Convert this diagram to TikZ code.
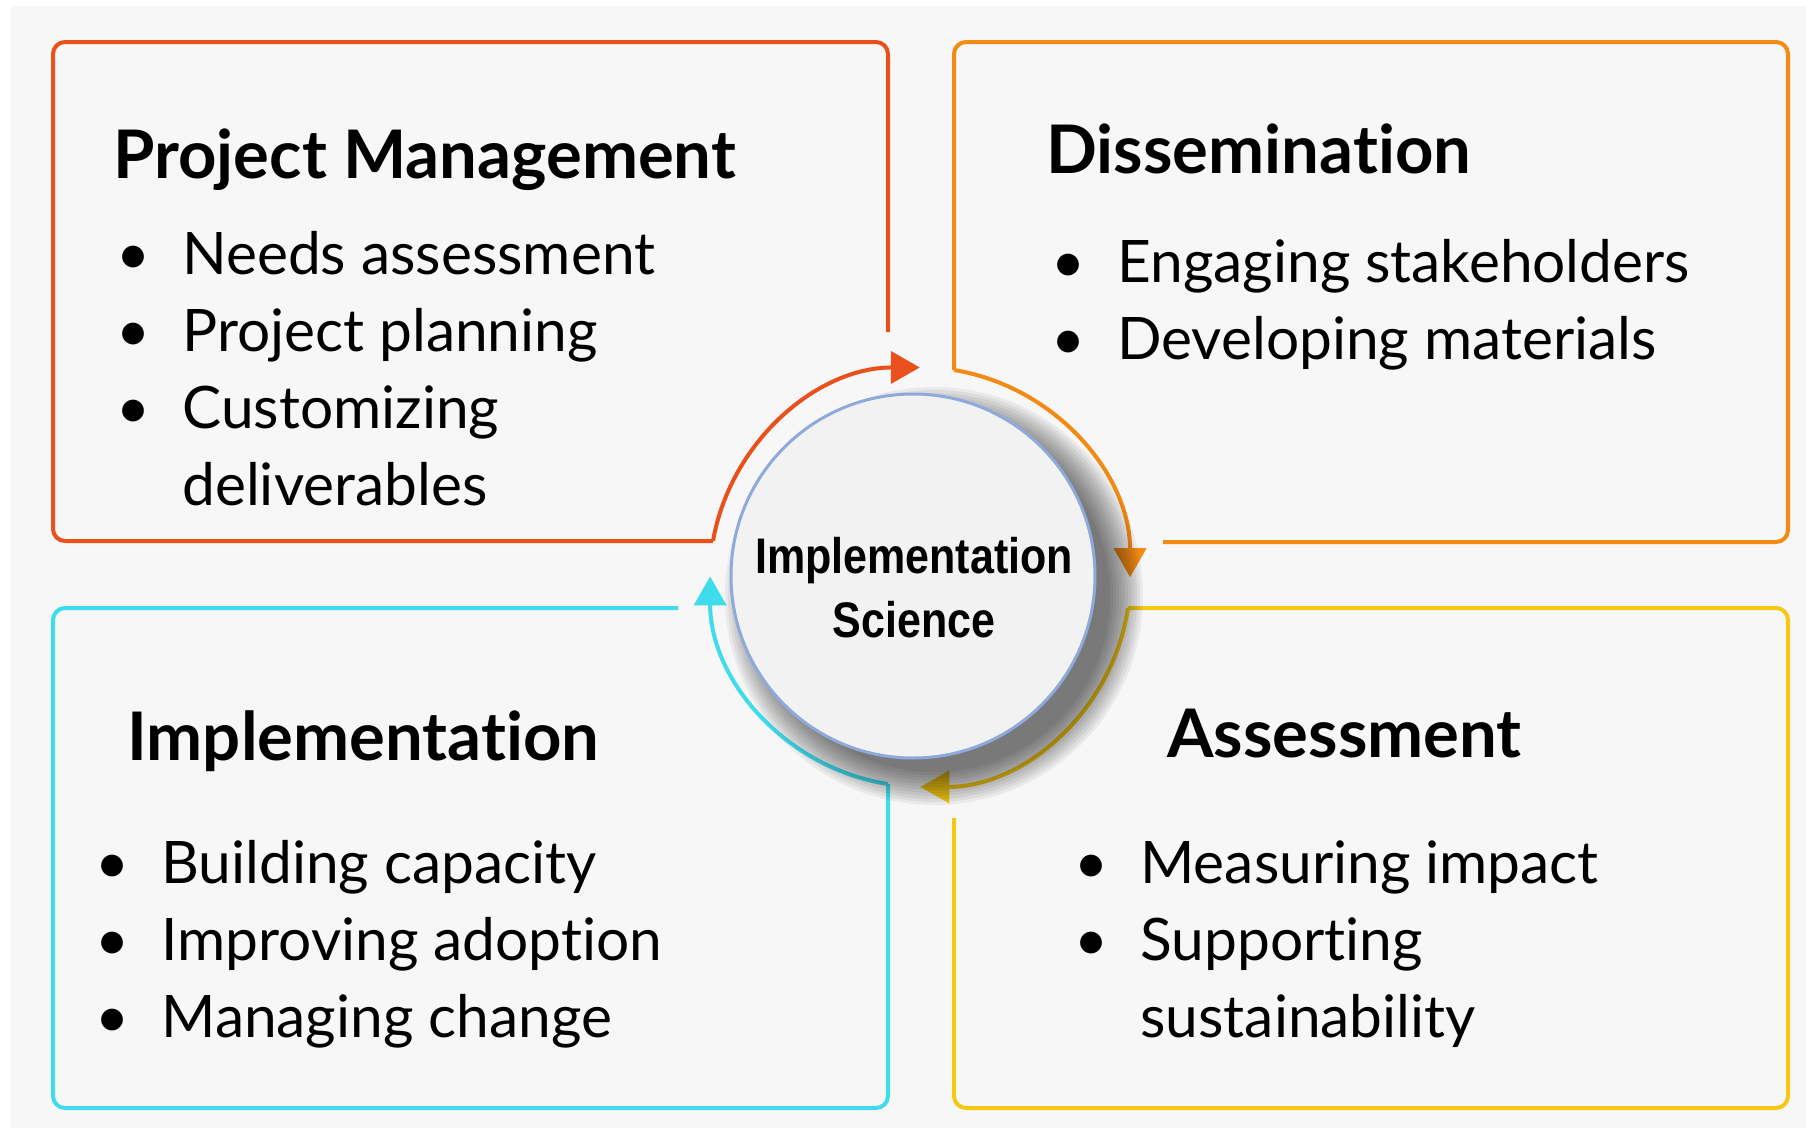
\documentclass[tikz,border=0pt]{standalone}
\usepackage{fontspec}
\setmainfont{Lato}[Ligatures=NoCommon]
\newfontfamily\hubfont{Liberation Sans}[FakeStretch=0.86]
\usetikzlibrary{arrows.meta}
\definecolor{pagebg}{HTML}{F7F7F7}
\definecolor{pmred}{HTML}{E9501B}
\definecolor{dsorange}{HTML}{F28A14}
\definecolor{asyellow}{HTML}{F5C814}
\definecolor{imcyan}{HTML}{3FDCEC}
\definecolor{hubedge}{HTML}{8EAADC}
\definecolor{hubfill}{HTML}{F2F2F2}
\tikzset{
  frame/.style={line width=2pt, rounded corners=6pt},
  loop/.style={line width=2pt, -{Triangle[length=14.5pt,width=16pt]}},
  head/.style={anchor=base west, inner sep=0pt, font=\fontsize{33.5}{40}\selectfont\bfseries},
  item/.style={anchor=base west, inner sep=0pt, font=\fontsize{29.3}{35}\selectfont},
  hub/.style={circle, draw=hubedge, line width=1.5pt, fill=hubfill, minimum size=182pt, inner sep=0pt},
  hublabel/.style={anchor=base, inner sep=0pt, font=\hubfont\bfseries\fontsize{25}{30}\selectfont},
}
\newcommand\bul{\llap{\textbullet\hspace{16pt}}}
\begin{document}
\begin{tikzpicture}[x=0.5pt,y=-0.5pt]
  \useasboundingbox (0,0) rectangle (1806,1130);
  \fill[pagebg] (11,6) rectangle (1806,1128);

  \draw[frame,pmred] (888,332) -- (888,42) -- (53,42) -- (53,541) -- (713,541) coordinate (pmj);
  \draw[frame,dsorange] (1163,542) -- (1788,542) -- (1788,42) -- (954,42) -- (954,370) coordinate (dsj);
  \draw[frame,asyellow] (954,818) -- (954,1108) -- (1788,1108) -- (1788,608) -- (1128,608) coordinate (asj);
  \draw[frame,imcyan] (678,608) -- (53,608) -- (53,1108) -- (888,1108) -- (888,784) coordinate (imj);

  \draw[loop,pmred] (pmj) arc[start angle=190,end angle=270,radius=210];
  \draw[loop,dsorange] (dsj) arc[start angle=279.3,end angle=360,radius=210];
  \draw[loop,asyellow] (asj) arc[start angle=8.5,end angle=90,radius=210];
  \draw[loop,imcyan] (imj) arc[start angle=98.8,end angle=180,radius=210];

  \foreach \k in {0,...,11}
    \fill[black,opacity=0.055] (934,596) circle[radius={176+3*\k}];
  \node[hub] (hub) at (913,576) {};
  \node[hublabel] (hubtop) at (914,573) {Implementation};
  \node[hublabel] (hubbot) at (914,637) {Science};

  \node[head] (pmhead) at (113,178) {Project Management};
  \foreach \t [count=\i from 0] in {Needs assessment, Project planning, Customizing}
    \node[item] (pm\i) at (182,{274+77*\i}) {\bul\t};
  \node[item] (pm3) at (182,505) {deliverables};

  \node[head] (dshead) at (1046,173) {Dissemination};
  \foreach \t [count=\i from 0] in {Engaging stakeholders, Developing materials}
    \node[item] (ds\i) at (1117,{282+77*\i}) {\bul\t};

  \node[head] (imhead) at (127,760) {Implementation};
  \foreach \t [count=\i from 0] in {Building capacity, Improving adoption, Managing change}
    \node[item] (im\i) at (161,{883+77*\i}) {\bul\t};

  \node[head] (ashead) at (1167,757) {Assessment};
  \foreach \t [count=\i from 0] in {Measuring impact, Supporting}
    \node[item] (as\i) at (1140,{883+77*\i}) {\bul\t};
  \node[item] (as2) at (1140,1037) {sustainability};
\end{tikzpicture}
\end{document}
